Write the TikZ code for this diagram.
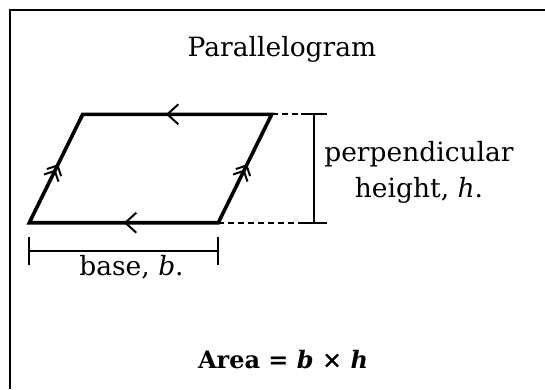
\documentclass[tikz,border=0pt]{standalone}
\usepackage{fontspec}
\setmainfont{DejaVu Serif}
\usetikzlibrary{arrows.meta, decorations.markings}
\definecolor{ink}{RGB}{0,0,0}

\begin{document}
\begin{tikzpicture}[
    x=1pt, y=-1pt, font=\fontsize{26.5}{36}\selectfont,
    frame/.style={draw=ink,line width=2.5pt},
    side/.style={draw=ink,line width=3.6pt,line join=miter},
    dim/.style={draw=ink,line width=2pt},
    ext/.style={draw=ink,line width=2pt,dash pattern=on 6pt off 4pt},
    lbl/.style={anchor=base,inner sep=0pt,text=ink},
    parone/.style={postaction={decorate},decoration={markings,
        mark=at position #1 with {\arrow{Straight Barb[length=11pt,width=20pt,line width=2pt]}}}},
    partwo/.style={postaction={decorate},decoration={markings,
        mark=at position #1 with {\arrow{Straight Barb[length=8pt,width=16pt,line width=2pt]}},
        mark=at position #1+0.05 with {\arrow{Straight Barb[length=8pt,width=16pt,line width=2pt]}}}}]

  \useasboundingbox (0,0) rectangle (545,389);
  \draw[frame] (10,389) -- (10,10) -- (545,10);

  % the parallelogram
  \coordinate (A) at (82.7,114.3);
  \coordinate (B) at (271.7,114.3);
  \coordinate (C) at (218.3,222.7);
  \coordinate (D) at (29.3,222.7);
  \draw[side] (A) -- (B) -- (C) -- (D) -- cycle;
  \path[parone=0.56] (B) -- (A);
  \path[parone=0.5] (C) -- (D);
  \path[partwo=0.49] (D) -- (A);
  \path[partwo=0.49] (C) -- (B);

  % height
  \coordinate (ht) at (314.3,114.3);
  \coordinate (hb) at (314.3,222.7);
  \draw[ext] (B) -- ([xshift=-13pt]ht);
  \draw[ext] (C) -- ([xshift=-13pt]hb);
  \draw[dim] ([xshift=-13pt]ht) -- ([xshift=13pt]ht);
  \draw[dim] ([xshift=-13pt]hb) -- ([xshift=13pt]hb);
  \draw[dim] (ht) -- (hb);

  % base
  \coordinate (bl) at (29.3,251);
  \coordinate (br) at (218.3,251);
  \draw[dim] (bl) -- (br);
  \draw[dim] ([yshift=14pt]bl) -- ([yshift=-14pt]bl);
  \draw[dim] ([yshift=14pt]br) -- ([yshift=-14pt]br);

  \node[lbl] (title) at (282,56) {Parallelogram};
  \node[lbl] (base) at (131.5,275) {base, \textit{b}.};
  \node[align=center,inner sep=0pt,text=ink] (height) at (419,172)
       {perpendicular\\height, \textit{h}.};
  \node[lbl,font=\fontsize{24}{30}\selectfont] (area) at (283,368)
       {\textbf{Area = \textit{b} × \textit{h}}};
\end{tikzpicture}
\end{document}
